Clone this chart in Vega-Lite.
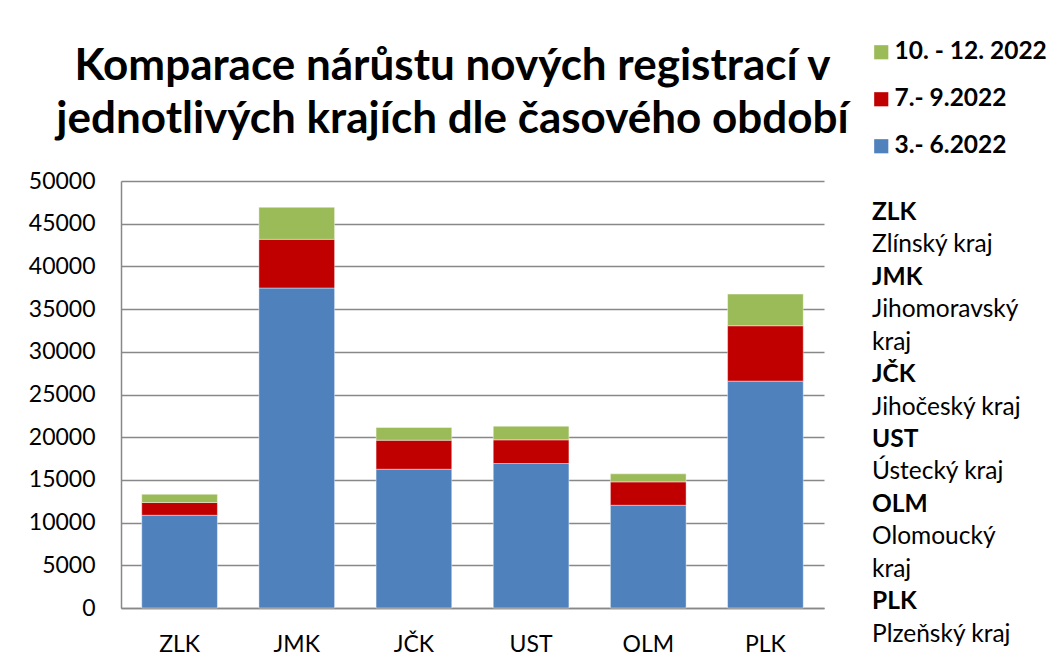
{
  "$schema": "https://vega.github.io/schema/vega-lite/v6.json",
  "background": "white",
  "padding": {"left": 28, "top": 40, "right": 5, "bottom": 5},
  "bounds": "flush",
  "config": {
    "font": "Lato",
    "view": {"stroke": null},
    "axis": {"labelFont": "Lato", "labelColor": "black"}
  },
  "datasets": {
    "bars": [
      {"kraj": "ZLK", "obdobi": "3.- 6.2022", "poradi": 1, "pocet": 10860},
      {"kraj": "ZLK", "obdobi": "7.- 9.2022", "poradi": 2, "pocet": 1490},
      {"kraj": "ZLK", "obdobi": "10. - 12. 2022", "poradi": 3, "pocet": 970},
      {"kraj": "JMK", "obdobi": "3.- 6.2022", "poradi": 1, "pocet": 37470},
      {"kraj": "JMK", "obdobi": "7.- 9.2022", "poradi": 2, "pocet": 5700},
      {"kraj": "JMK", "obdobi": "10. - 12. 2022", "poradi": 3, "pocet": 3750},
      {"kraj": "JČK", "obdobi": "3.- 6.2022", "poradi": 1, "pocet": 16250},
      {"kraj": "JČK", "obdobi": "7.- 9.2022", "poradi": 2, "pocet": 3400},
      {"kraj": "JČK", "obdobi": "10. - 12. 2022", "poradi": 3, "pocet": 1490},
      {"kraj": "UST", "obdobi": "3.- 6.2022", "poradi": 1, "pocet": 16920},
      {"kraj": "UST", "obdobi": "7.- 9.2022", "poradi": 2, "pocet": 2770},
      {"kraj": "UST", "obdobi": "10. - 12. 2022", "poradi": 3, "pocet": 1600},
      {"kraj": "OLM", "obdobi": "3.- 6.2022", "poradi": 1, "pocet": 12030},
      {"kraj": "OLM", "obdobi": "7.- 9.2022", "poradi": 2, "pocet": 2740},
      {"kraj": "OLM", "obdobi": "10. - 12. 2022", "poradi": 3, "pocet": 940},
      {"kraj": "PLK", "obdobi": "3.- 6.2022", "poradi": 1, "pocet": 26570},
      {"kraj": "PLK", "obdobi": "7.- 9.2022", "poradi": 2, "pocet": 6480},
      {"kraj": "PLK", "obdobi": "10. - 12. 2022", "poradi": 3, "pocet": 3710}
    ],
    "notes": [
      {"radek": 1, "text": "ZLK", "tucne": true},
      {"radek": 2, "text": " Zlínský kraj", "tucne": false},
      {"radek": 3, "text": "JMK", "tucne": true},
      {"radek": 4, "text": "Jihomoravský", "tucne": false},
      {"radek": 5, "text": "kraj", "tucne": false},
      {"radek": 6, "text": "JČK", "tucne": true},
      {"radek": 7, "text": "Jihočeský kraj", "tucne": false},
      {"radek": 8, "text": "UST", "tucne": true},
      {"radek": 9, "text": "Ústecký kraj", "tucne": false},
      {"radek": 10, "text": "OLM", "tucne": true},
      {"radek": 11, "text": "Olomoucký", "tucne": false},
      {"radek": 12, "text": "kraj", "tucne": false},
      {"radek": 13, "text": "PLK", "tucne": true},
      {"radek": 14, "text": "Plzeňský kraj", "tucne": false}
    ]
  },
  "hconcat": [
    {
      "width": 703,
      "height": 427,
      "title": {
        "text": ["Komparace nárůstu nových registrací v", "jednotlivých krajích dle časového období"],
        "font": "Lato",
        "fontSize": 44,
        "fontWeight": "bold",
        "color": "black",
        "lineHeight": 53,
        "anchor": "middle",
        "dx": -20,
        "offset": 28
      },
      "data": {"name": "bars"},
      "mark": {"type": "bar", "stroke": "white", "strokeWidth": 0.6, "strokeOpacity": 0.7},
      "encoding": {
        "x": {
          "field": "kraj",
          "type": "nominal",
          "sort": ["ZLK", "JMK", "JČK", "UST", "OLM", "PLK"],
          "scale": {"paddingInner": 0.354, "paddingOuter": 0.177},
          "axis": {
            "title": null,
            "labelAngle": 0,
            "labelFontSize": 23,
            "labelPadding": 25,
            "ticks": false,
            "domainColor": "#888888",
            "domainWidth": 1.5
          }
        },
        "y": {
          "field": "pocet",
          "type": "quantitative",
          "aggregate": "sum",
          "stack": "zero",
          "scale": {"domain": [0, 50000], "nice": false},
          "axis": {
            "title": null,
            "values": [0, 5000, 10000, 15000, 20000, 25000, 30000, 35000, 40000, 45000, 50000],
            "format": "d",
            "labelFontSize": 23,
            "labelPadding": 26,
            "ticks": false,
            "domainColor": "#888888",
            "domainWidth": 1.5,
            "gridColor": "#888888",
            "gridWidth": 1.5
          }
        },
        "color": {
          "field": "obdobi",
          "type": "nominal",
          "scale": {
            "domain": ["10. - 12. 2022", "7.- 9.2022", "3.- 6.2022"],
            "range": ["#9BBB59", "#C00000", "#4F81BD"]
          },
          "legend": {
            "title": null,
            "orient": "none",
            "legendX": 748,
            "legendY": -141,
            "symbolType": "square",
            "symbolSize": 200,
            "symbolStrokeWidth": 0,
            "labelFont": "Lato",
            "labelFontSize": 24.5,
            "labelFontWeight": "bold",
            "labelColor": "black",
            "labelLimit": 400,
            "rowPadding": 22,
            "labelOffset": 1
          }
        },
        "order": {"field": "poradi", "type": "quantitative"}
      }
    },
    {
      "width": 80,
      "height": 470,
      "data": {"name": "notes"},
      "layer": [
        {
          "transform": [{"filter": "datum.tucne"}],
          "mark": {"type": "text", "align": "left", "baseline": "middle", "font": "Lato", "fontSize": 24.5, "fontWeight": "bold", "color": "black"},
          "encoding": {
            "y": {"field": "radek", "type": "quantitative", "scale": {"domain": [0.02, 14.5], "nice": false, "zero": false, "reverse": true}, "axis": null},
            "text": {"field": "text"}
          }
        },
        {
          "transform": [{"filter": "!datum.tucne"}],
          "mark": {"type": "text", "align": "left", "baseline": "middle", "font": "Lato", "fontSize": 24.5, "color": "black"},
          "encoding": {
            "y": {"field": "radek", "type": "quantitative", "scale": {"domain": [0.02, 14.5], "nice": false, "zero": false, "reverse": true}, "axis": null},
            "text": {"field": "text"}
          }
        }
      ]
    }
  ],
  "spacing": 8
}
